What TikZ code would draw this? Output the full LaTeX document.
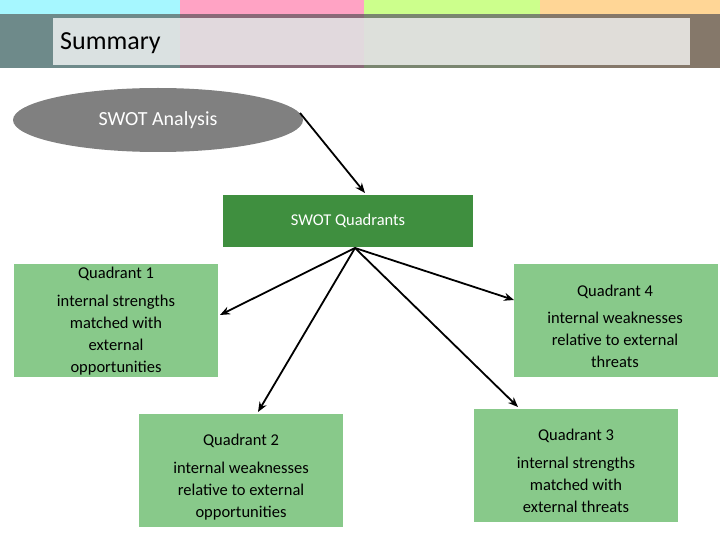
\documentclass[tikz,border=0pt]{standalone}
\usepackage{fontspec}
\setmainfont{Carlito}
\usetikzlibrary{arrows.meta,shapes.geometric}
\definecolor{qgreen}{HTML}{88C98A}
\definecolor{dgreen}{HTML}{3F8F3F}
\definecolor{scyan}{HTML}{A6F7FF}
\definecolor{spink}{HTML}{FFA3C4}
\definecolor{sgreen}{HTML}{CCFF8C}
\definecolor{sorange}{HTML}{FFD696}
\definecolor{bcyan}{HTML}{6E8A8A}
\definecolor{bpink}{HTML}{8A6A78}
\definecolor{bgreen}{HTML}{7A8670}
\definecolor{borange}{HTML}{85786A}
\definecolor{egray}{HTML}{808080}
\begin{document}
\begin{tikzpicture}[x=1pt,y=-1pt,
  quad/.style={draw=white,fill=qgreen,minimum width=205pt,minimum height=114pt,inner sep=0pt},
  txt/.style={font=\fontsize{16.5}{22}\selectfont,align=center,inner sep=0pt},
  conn/.style={draw=black,line width=1.8pt,-{Stealth[length=10pt,width=8pt]}}]
\useasboundingbox (0,0) rectangle (720,540);
\fill[white] (0,0) rectangle (720,540);
\fill[scyan] (0,0) rectangle (180,14);
\fill[spink] (180,0) rectangle (364,14);
\fill[sgreen] (364,0) rectangle (540,14);
\fill[sorange] (540,0) rectangle (720,14);
\fill[bcyan] (0,14) rectangle (180,68);
\fill[bpink] (180,14) rectangle (364,68);
\fill[bgreen] (364,14) rectangle (540,68);
\fill[borange] (540,14) rectangle (720,68);
\fill[white,opacity=0.75] (53,18) rectangle (690,65);
\node[anchor=west,inner sep=0pt,font=\fontsize{26}{30}\selectfont] (title) at (60,43) {Summary};
\node[ellipse,fill=egray,minimum width=290pt,minimum height=64pt,inner sep=0pt,text=white,font=\fontsize{20}{24}\selectfont] (swot) at (158,120) {SWOT Analysis};
\node[fill=dgreen,minimum width=250pt,minimum height=52pt,inner sep=0pt,text=white,font=\fontsize{16.5}{20}\selectfont] (quads) at (348,221) {SWOT Quadrants};
\node[quad] (q1) at (115.5,320) {};
\node[quad] (q4) at (615.5,320) {};
\node[quad] (q2) at (240.5,470.5) {};
\node[quad] (q3) at (575.5,465) {};
\node[txt] (q1h) at (116,274) {Quadrant 1};
\node[txt,anchor=north] (q1b) at (116,295) {internal strengths\\matched with\\external\\opportunities};
\node[txt] (q4h) at (615,292) {Quadrant 4};
\node[txt,anchor=north] (q4b) at (615,312) {internal weaknesses\\relative to external\\threats};
\node[txt] (q2h) at (241,441) {Quadrant 2};
\node[txt,anchor=north] (q2b) at (241,462) {internal weaknesses\\relative to external\\opportunities};
\node[txt] (q3h) at (576,436) {Quadrant 3};
\node[txt,anchor=north] (q3b) at (576,457) {internal strengths\\matched with\\external threats};
\coordinate (s0) at (300,113);
\coordinate (hub) at (355,248);
\draw[conn] (s0) -- (365,193);
\draw[conn] (hub) -- (220,315);
\draw[conn] (hub) -- (258,412);
\draw[conn] (hub) -- (514,300);
\draw[conn] (hub) -- (518,407);
\end{tikzpicture}
\end{document}
